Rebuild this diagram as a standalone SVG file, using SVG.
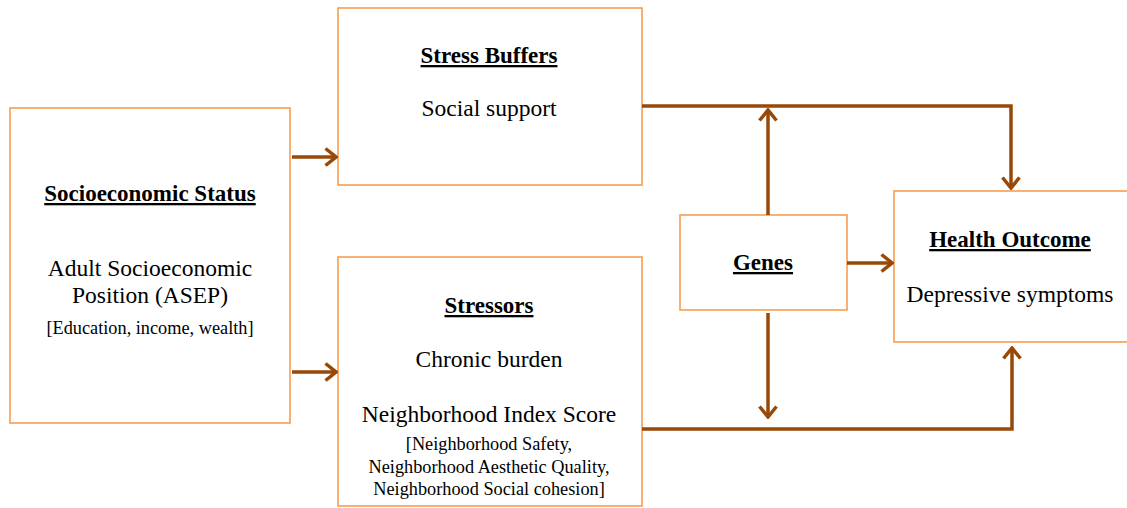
<svg xmlns="http://www.w3.org/2000/svg" width="1127" height="508" viewBox="0 0 1127 508">
<style>
.box{fill:#fff;stroke:#F79646;stroke-width:1.5}
text{font-family:'Liberation Serif','Times New Roman',serif;fill:#000;text-anchor:middle}
.h{font-size:23px;font-weight:bold;text-decoration:underline}
.b{font-size:23.5px}
.s{font-size:18.3px}
.c{fill:none;stroke:#984807;stroke-width:3.5}
</style>
<defs>
<marker id="ah" markerUnits="userSpaceOnUse" viewBox="0 0 14 20" markerWidth="14" markerHeight="20" refX="12" refY="10" orient="auto">
<path d="M1.5,1.5 L12,10 L1.5,18.5" fill="none" stroke="#984807" stroke-width="3.5"/>
</marker>
</defs>
<rect width="1127" height="508" fill="#fff"/>
<g id="ses">
<rect class="box" x="10" y="108" width="280" height="315"/>
<text class="h" x="150" y="201">Socioeconomic Status</text>
<text class="b" x="150" y="276">Adult Socioeconomic</text>
<text class="b" x="150" y="303">Position (ASEP)</text>
<text class="s" x="150" y="334">[Education, income, wealth]</text>
</g>
<g id="buffers">
<rect class="box" x="338" y="8" width="304" height="177"/>
<text class="h" x="489" y="63">Stress Buffers</text>
<text class="b" x="489" y="116">Social support</text>
</g>
<g id="stressors">
<rect class="box" x="338" y="257" width="304" height="249"/>
<text class="h" x="489" y="313">Stressors</text>
<text class="b" x="489" y="367">Chronic burden</text>
<text class="b" x="489" y="422">Neighborhood Index Score</text>
<text class="s" x="489" y="450">[Neighborhood Safety,</text>
<text class="s" x="489" y="473">Neighborhood Aesthetic Quality,</text>
<text class="s" x="489" y="495">Neighborhood Social cohesion]</text>
</g>
<g id="genes">
<rect class="box" x="680" y="215" width="167" height="95"/>
<text class="h" x="763" y="270">Genes</text>
</g>
<g id="health">
<rect class="box" x="894" y="191" width="245" height="151"/>
<text class="h" x="1010" y="247">Health Outcome</text>
<text class="b" x="1010" y="302">Depressive symptoms</text>
</g>
<g id="connectors">
<path class="c" d="M292,157 L336,157" marker-end="url(#ah)"/>
<path class="c" d="M292,372 L336,372" marker-end="url(#ah)"/>
<path class="c" d="M642,106 L1011,106 L1011,188" marker-end="url(#ah)"/>
<path class="c" d="M642,429 L1012,429 L1012,348" marker-end="url(#ah)"/>
<path class="c" d="M768,215 L768,110" marker-end="url(#ah)"/>
<path class="c" d="M768,313 L768,417" marker-end="url(#ah)"/>
<path class="c" d="M847,263 L892,263" marker-end="url(#ah)"/>
</g>
</svg>
